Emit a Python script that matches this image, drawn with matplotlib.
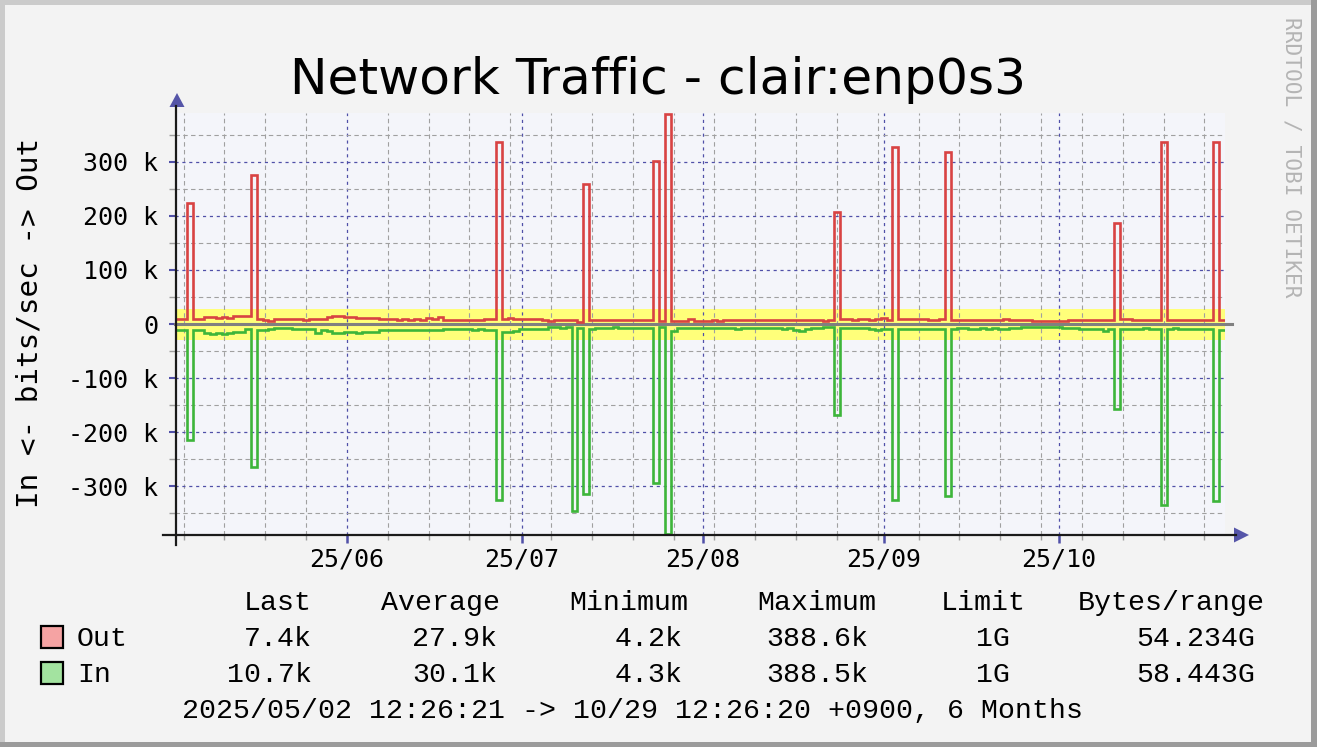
import matplotlib
matplotlib.use('Agg')
import matplotlib.pyplot as plt
import matplotlib.dates as mdates
from matplotlib.ticker import MultipleLocator, FuncFormatter
from matplotlib.patches import Rectangle, Polygon
from matplotlib.lines import Line2D
import numpy as np
from datetime import datetime

# ---------------- data ----------------
title = "Network Traffic - clair:enp0s3"
y_label = "In <- bits/sec -> Out"
watermark = "RRDTOOL / TOBI OETIKER"
footer = "2025/05/02 12:26:21 -> 10/29 12:26:20 +0900, 6 Months"
start = datetime(2025, 5, 2, 12, 26, 21)
end = datetime(2025, 10, 29, 12, 26, 20)

# daily values, k bits/sec
out_k = [10, 10, 224, 9, 9, 13, 13, 12, 13, 11,
         15, 15, 14, 276, 9, 8, 6, 10, 10, 10,
         9, 10, 8, 9, 9, 10, 13, 14, 14, 13,
         13, 12, 11, 12, 11, 10, 9, 9, 8, 9,
         8, 9, 8, 11, 10, 13, 8, 7, 7, 7,
         8, 8, 8, 9, 9, 337, 10, 11, 10, 10,
         9, 10, 9, 8, 6, 8, 8, 8, 7, 3,
         259, 8, 8, 7, 8, 8, 8, 8, 8, 7,
         8, 8, 302, 6, 388.6, 6, 6, 6, 10, 6,
         6, 6, 7, 6, 7, 7, 7, 7, 8, 7,
         8, 7, 8, 7, 7, 7, 8, 8, 7, 8,
         7, 6, 7, 207, 9, 9, 8, 9, 10, 8,
         10, 12, 8, 328, 9, 9, 9, 9, 9, 8,
         8, 9, 318, 8, 7, 7, 8, 8, 7, 7,
         8, 8, 9, 7, 7, 7, 7, 6, 6, 6,
         6, 6, 6, 7, 8, 8, 7, 7, 7, 7,
         8, 187, 10, 9, 8, 8, 7, 7, 8, 337,
         7, 7, 7, 7, 7, 7, 8, 8, 337, 7.4]

in_k = [-11, -11, -215, -11, -11, -16, -19, -17, -18, -16,
        -15, -14, -10, -265, -11, -11, -10, -8, -8, -8,
        -10, -10, -10, -10, -16, -12, -13, -16, -16, -15,
        -15, -16, -15, -14, -14, -11, -11, -11, -11, -12,
        -11, -11, -11, -12, -12, -11, -9, -10, -10, -10,
        -10, -11, -10, -12, -11, -326, -14, -14, -13, -9,
        -9, -10, -9, -9, -6, -6, -7, -6, -346, -8,
        -315, -9, -8, -7, -7, -6, -8, -7, -7, -7,
        -8, -7, -294, -5, -388.5, -13, -8, -7, -7, -8,
        -8, -7, -7, -8, -7, -8, -9, -8, -8, -8,
        -7, -8, -8, -8, -9, -8, -12, -13, -9, -8,
        -7, -6, -6, -168, -8, -7, -8, -8, -8, -10,
        -12, -9, -9, -326, -9, -9, -9, -9, -9, -9,
        -9, -9, -317, -9, -8, -8, -9, -9, -8, -9,
        -8, -9, -9, -8, -7, -5, -5, -5, -5, -5,
        -5, -6, -8, -8, -8, -9, -9, -9, -10, -13,
        -9, -157, -9, -9, -9, -9, -8, -9, -9, -335,
        -9, -8, -9, -9, -9, -9, -9, -9, -328, -10.7]

stat_headers = ["Last", "Average", "Minimum", "Maximum", "Limit", "Bytes/range"]
series_names = ["Out", "In"]
out_stats = ["7.4k", "27.9k", "4.2k", "388.6k", "1G", "54.234G"]
in_stats = ["10.7k", "30.1k", "4.3k", "388.5k", "1G", "58.443G"]
avg_out_k = 27.9
avg_in_k = 30.1

# ---------------- styling ----------------
W, H = 1317, 747
BG = '#F3F3F3'
PLOT_BG = '#F4F5FA'
BLUE = '#5050A8'
GRAY = '#A0A0A0'
RED = '#D84343'
GREEN = '#3DB53A'
YELLOW = '#FFFF7A'

def fx(x):
    return x / W

def fy(y):
    return 1 - y / H

fig = plt.figure(figsize=(W / 100, H / 100), dpi=100)
fig.patch.set_facecolor(BG)

# frame border
fig.add_artist(Rectangle((0, 0), fx(5), 1, transform=fig.transFigure, color='#CBCBCB', lw=0))
fig.add_artist(Rectangle((0, fy(5)), 1, fy(0) - fy(5), transform=fig.transFigure, color='#CBCBCB', lw=0))
fig.add_artist(Rectangle((fx(1311), 0), fx(6), 1, transform=fig.transFigure, color='#9B9B9B', lw=0))
fig.add_artist(Rectangle((0, 0), 1, fy(742), transform=fig.transFigure, color='#9B9B9B', lw=0))

ax = fig.add_axes([fx(175), fy(535), fx(1050), fy(113) - fy(535)])
ax.set_facecolor(PLOT_BG)

n = len(out_k)
x0 = mdates.date2num(start)
x1 = mdates.date2num(end)
edges = np.linspace(x0, x1, n + 1)

# average band
ax.fill_between([x0, x1], -avg_in_k * 1e3, avg_out_k * 1e3, color=YELLOW, lw=0, zorder=0.5)
# zero line
ax.axhline(0, xmin=0, xmax=1.007, color='#808080', lw=2.2, zorder=2, clip_on=False)

ax.stairs(np.array(out_k) * 1e3, edges, baseline=None, color=RED, lw=1.9, zorder=4)
ax.stairs(np.array(in_k) * 1e3, edges, baseline=None, color=GREEN, lw=1.9, zorder=4)

ax.set_xlim(x0, x1)
ax.set_ylim(-390e3, 390e3)

ax.yaxis.set_major_locator(MultipleLocator(100e3))
ax.yaxis.set_minor_locator(MultipleLocator(50e3))
ax.yaxis.set_major_formatter(FuncFormatter(lambda v, p: "0" if abs(v) < 1 else f"{int(round(v / 1000))} k"))
ax.xaxis.set_major_locator(mdates.MonthLocator())
ax.xaxis.set_minor_locator(mdates.WeekdayLocator(byweekday=mdates.SU))
ax.xaxis.set_major_formatter(mdates.DateFormatter('%y/%m'))

ax.grid(which='major', color=BLUE, lw=0.9, linestyle=(0, (2.5, 3)))
ax.grid(which='minor', color=GRAY, lw=0.8, linestyle=(0, (4, 3)))

ax.tick_params(axis='y', which='major', length=4.3, width=1.5, color=BLUE, direction='out', pad=8,
               labelsize=18, labelcolor='black')
ax.tick_params(axis='y', which='minor', length=4.3, width=1.0, color=GRAY, direction='out')
ax.tick_params(axis='x', which='major', length=5.8, width=1.8, color=BLUE, direction='out', pad=3,
               labelsize=18, labelcolor='black')
ax.tick_params(axis='x', which='minor', length=3.6, width=1.0, color=GRAY, direction='out')
for lab in ax.get_xticklabels() + ax.get_yticklabels():
    lab.set_fontfamily('DejaVu Sans Mono')

for s in ax.spines.values():
    s.set_visible(False)

# axis lines
fig.add_artist(Line2D([fx(176), fx(176)], [fy(106), fy(545)], transform=fig.transFigure, color='#1A1A1A', lw=1.6))
fig.add_artist(Line2D([fx(163), fx(1236)], [fy(535), fy(535)], transform=fig.transFigure, color='#1A1A1A', lw=1.6))
# arrows
fig.add_artist(Polygon([[fx(177), fy(93)], [fx(169.5), fy(107)], [fx(184.5), fy(107)]], closed=True,
                       transform=fig.transFigure, color='#5555A8', lw=0))
fig.add_artist(Polygon([[fx(1249), fy(535)], [fx(1234), fy(527.5)], [fx(1234), fy(542.5)]], closed=True,
                       transform=fig.transFigure, color='#5555A8', lw=0))

# title
fig.text(fx(657.5), fy(94), title, ha='center', va='baseline', fontsize=36.2,
         fontfamily='DejaVu Sans', color='black')
# y label
fig.text(fx(30), fy(323), y_label, ha='center', va='center', rotation=90, fontsize=21.2,
         fontfamily='DejaVu Sans Mono', color='black')
# watermark
fig.text(fx(1292), fy(157), watermark, ha='center', va='center', rotation=-90, fontsize=15.2,
         fontfamily='DejaVu Sans Mono', color='#B4B4B4')

# legend
LEG_FONT = dict(fontfamily='Liberation Mono', fontsize=20.3, color='black')
head_right = [312, 500, 688, 876, 1026, 1265]
val_right = [312, 497, 683, 868, 1010, 1255]
for h, xr in zip(stat_headers, head_right):
    fig.text(fx(xr), fy(610), h, ha='right', va='baseline', **LEG_FONT)

box_colors = ['#F5A3A3', '#A3E3A0']
row_base = [646, 682]
row_center = [637, 673]
for name, stats, bc, yb, yc in zip(series_names, [out_stats, in_stats], box_colors, row_base, row_center):
    fig.add_artist(Rectangle((fx(41), fy(yc + 11)), fx(22), fy(yc - 11) - fy(yc + 11),
                             transform=fig.transFigure, facecolor=bc, edgecolor='black', lw=1.6))
    fig.text(fx(77), fy(yb), name, ha='left', va='baseline', **LEG_FONT)
    for v, xr in zip(stats, val_right):
        fig.text(fx(xr), fy(yb), v, ha='right', va='baseline', **LEG_FONT)

fig.text(fx(182), fy(718), footer, ha='left', va='baseline', **LEG_FONT)

fig.savefig('out.png', dpi=100, facecolor=BG)
